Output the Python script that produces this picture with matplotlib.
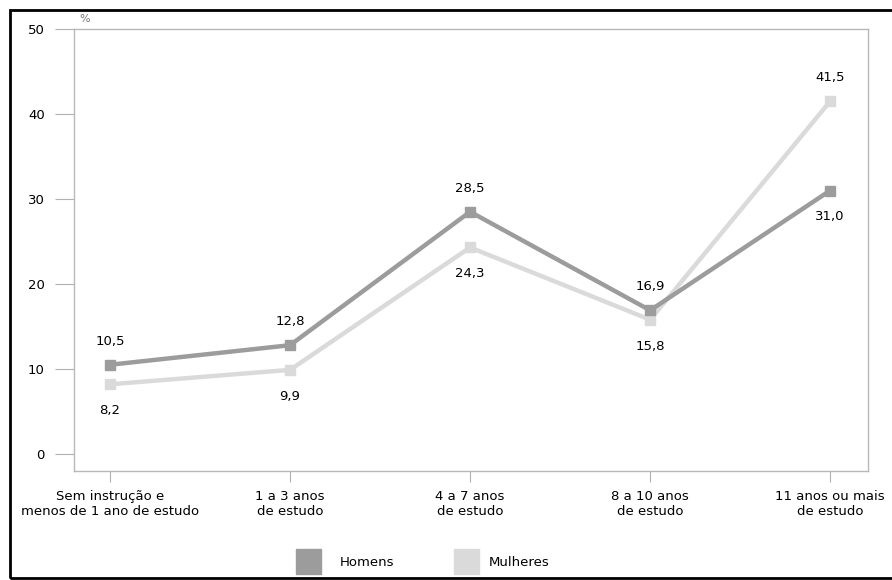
import matplotlib.pyplot as plt
from matplotlib.patches import Rectangle

plt.rcParams['font.family'] = ['DejaVu Sans']

categorias = ['Sem instrução e\nmenos de 1 ano de estudo', '1 a 3 anos\nde estudo',
              '4 a 7 anos\nde estudo', '8 a 10 anos\nde estudo', '11 anos ou mais\nde estudo']
homens = [10.5, 12.8, 28.5, 16.9, 31.0]
mulheres = [8.2, 9.9, 24.3, 15.8, 41.5]
# posição do rótulo: 1 acima do ponto, -1 abaixo
pos_homens = [1, 1, 1, 1, -1]
pos_mulheres = [-1, -1, -1, -1, 1]

cor_h = '#9c9c9c'
cor_m = '#dadada'
fs = 9.5

fig = plt.figure(figsize=(8.92, 5.8), dpi=100)
ax = fig.add_axes([74 / 892, 1 - 471 / 580, (868 - 74) / 892, (471 - 29) / 580])

x = list(range(len(categorias)))
ax.plot(x, homens, color=cor_h, lw=3.2, marker='s', ms=7.5, zorder=3)
ax.plot(x, mulheres, color=cor_m, lw=3.2, marker='s', ms=7.5, zorder=2)

for serie, pos in [(homens, pos_homens), (mulheres, pos_mulheres)]:
    for xi, v, p in zip(x, serie, pos):
        dy = 17 if p > 0 else -19
        ax.annotate(f'{v:.1f}'.replace('.', ','), (xi, v), xytext=(0, dy),
                    textcoords='offset points', ha='center', va='center', fontsize=fs)

ax.set_xlim(-0.2, 4.21)
ax.set_ylim(-2, 50)
ax.set_yticks([0, 10, 20, 30, 40, 50])
ax.set_xticks(x)
ax.set_xticklabels(categorias, fontsize=fs, linespacing=1.2)
ax.tick_params(axis='y', length=14, color='#b0b0b0', pad=7, labelsize=fs)
ax.tick_params(axis='x', length=8, color='#b0b0b0', pad=6)
for s in ax.spines.values():
    s.set_color('#b8b8b8')
    s.set_linewidth(1)

ax.text(0.007, 1.012, '%', transform=ax.transAxes, fontsize=8, color='#777777',
        ha='left', va='bottom')

# legenda
fig.patches.append(Rectangle((296 / 892, 1 - 574 / 580), 25 / 892, 25 / 580,
                             transform=fig.transFigure, color=cor_h))
fig.text(340 / 892, 1 - 562 / 580, 'Homens', fontsize=fs, va='center')
fig.patches.append(Rectangle((454 / 892, 1 - 574 / 580), 25 / 892, 25 / 580,
                             transform=fig.transFigure, color=cor_m))
fig.text(489 / 892, 1 - 562 / 580, 'Mulheres', fontsize=fs, va='center')

# moldura externa
fig.patches.append(Rectangle((10 / 892, 2 / 580), 900 / 892, 568 / 580,
                             transform=fig.transFigure, fill=False, ec='black', lw=2))

fig.savefig('out.png', dpi=100)
